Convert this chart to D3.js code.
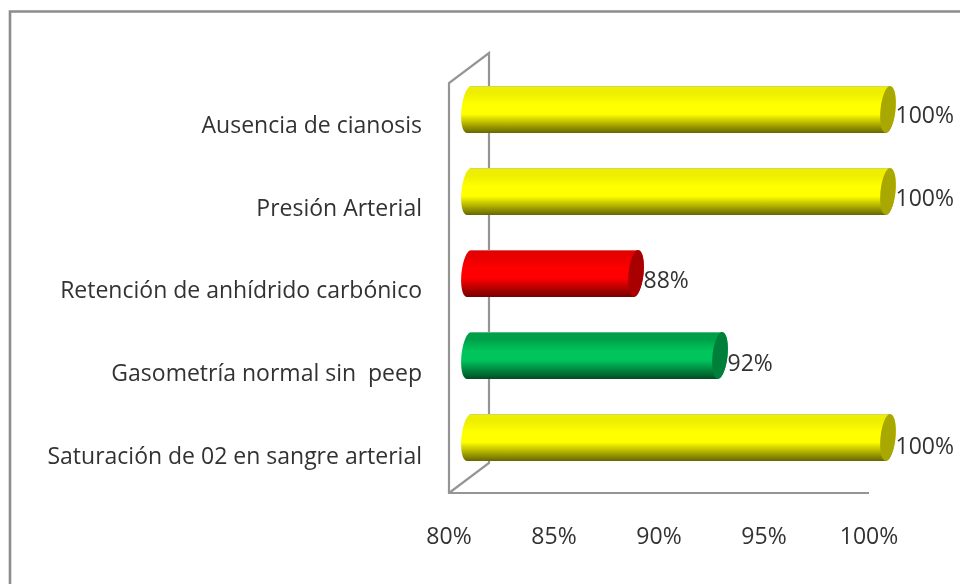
<!DOCTYPE html>
<html><head><meta charset="utf-8">
<script src="https://cdn.jsdelivr.net/npm/d3@7"></script>
<style>html,body{margin:0;background:#fff;overflow:hidden}svg{display:block}text{font-family:"Open Sans",sans-serif;fill:#333}</style>
</head><body><svg id="c" width="960" height="584"></svg>
<script>
const categories=["Ausencia de cianosis","Presión Arterial","Retención de anhídrido carbónico","Gasometría normal sin  peep","Saturación de 02 en sangre arterial"];
const values=[100,100,88,92,100];
const tones=["yellow","yellow","red","green","yellow"];
const ticks=[80,85,90,95,100];
const palette={
  yellow:{edge:"#c8c890",top:"#eeee00",main:"#ffff00",dark:"#666600",cap:"#a8a800"},
  red:{edge:"#d09090",top:"#e80000",main:"#ff0000",dark:"#750000",cap:"#a80000"},
  green:{edge:"#90c0a0",top:"#00a048",main:"#00c45c",dark:"#004d23",cap:"#007f3b"}
};

const svg=d3.select("#c");
const x=d3.scaleLinear().domain([80,100]).range([449,869]);
const y=d3.scaleBand().domain(categories).range([68.5,478.5]).paddingInner(0.427).paddingOuter(0.2135);
const labelY=d3.scalePoint().domain(categories).range([133,463.5]);
const valueY=d3.scalePoint().domain(categories).range([123,453.5]);
const depthX=40,depthY=-30,barShift=19,rx=7.5,tilt=2.5,tiltDeg=6;
const defs=svg.append("defs");
defs.append("filter").attr("id","soft").append("feGaussianBlur").attr("stdDeviation",0.5);
Object.entries(palette).forEach(([k,c])=>{
  const g=defs.append("linearGradient").attr("id","g-"+k).attr("x1",0).attr("y1",0).attr("x2",0).attr("y2",1);
  [[0,c.edge],[0.03,c.top],[0.15,c.top],[0.4,c.main],[0.6,c.main],[1,c.dark]].forEach(([o,col])=>g.append("stop").attr("offset",o).attr("stop-color",col));
});
const root=svg.append("g").attr("filter","url(#soft)");
root.append("path").attr("d","M10,584V11.5H960").attr("fill","none").attr("stroke","#8c8c8c").attr("stroke-width",2.6);
const x0=x(80);const yf=493,yt=83;
const wall=d3.path();
wall.moveTo(x(100),yf);wall.lineTo(x0,yf);wall.lineTo(x0,yt);wall.lineTo(x0+depthX,yt+depthY);wall.lineTo(x0+depthX,yf+depthY);wall.lineTo(x0,yf);
root.append("path").attr("d",wall.toString()).attr("fill","none").attr("stroke","#959595").attr("stroke-width",2.2);

const bars=root.selectAll("g.bar").data(categories).join("g").attr("class","bar");
bars.append("path").attr("fill",(d,i)=>`url(#g-${tones[i]})`).attr("d",(d,i)=>{
  const a=x(80)+barShift+1,b=x(values[i])+barShift,t=y(d),h=y.bandwidth(),ry=h/2;
  return `M${a+tilt},${t}L${b+tilt},${t}A${rx},${ry} ${tiltDeg} 0 1 ${b-tilt},${t+h}L${a-tilt},${t+h}A${rx},${ry} ${tiltDeg} 0 1 ${a+tilt},${t}Z`;
});
bars.append("ellipse").attr("fill",(d,i)=>palette[tones[i]].cap)
  .attr("rx",rx).attr("ry",y.bandwidth()/2)
  .attr("transform",(d,i)=>`translate(${x(values[i])+barShift},${y(d)+y.bandwidth()/2}) rotate(${tiltDeg})`);
const fs=23;
root.selectAll("text.cat").data(categories).join("text").attr("class","cat").style("white-space","pre")
  .attr("x",422).attr("y",d=>labelY(d)).attr("text-anchor","end").attr("font-size",fs).text(d=>d);
root.selectAll("text.val").data(values).join("text").attr("class","val")
  .attr("x",d=>x(d)+barShift+7.5).attr("y",(d,i)=>valueY(categories[i])).attr("font-size",fs).text(d=>d+"%");
root.selectAll("text.tick").data(ticks).join("text").attr("class","tick")
  .attr("x",d=>x(d)).attr("y",544).attr("text-anchor","middle").attr("font-size",fs).text(d=>d+"%");
</script></body></html>
